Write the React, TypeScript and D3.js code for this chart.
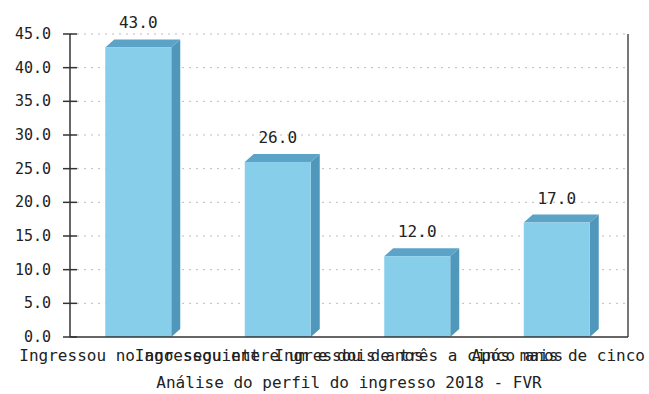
import React from "react";
import * as d3 from "d3";

const categories = [
  "Ingressou no ano seguinte",
  "Ingressou entre um e dois anos",
  "Ingressou de três a cinco anos",
  "Após mais de cinco",
];
const values = [43.0, 26.0, 12.0, 17.0];
const yTicks = [0, 5, 10, 15, 20, 25, 30, 35, 40, 45];
const title = "Análise do perfil do ingresso 2018 - FVR";

const W = 649;
const H = 394;
const left = 70;
const right = 628;
const top = 34;
const bottom = 337;
const depthX = 9;
const depthY = 8;
const barW = 66;
const font = "'DejaVu Sans Mono', monospace";

export default function App() {
  const x = d3.scaleBand<string>().domain(categories).range([left, right]).padding(0);
  const y = d3.scaleLinear().domain([0, 45]).range([bottom, top]);
  const step = x.step();

  return (
    <svg width={W} height={H} style={{ position: "absolute", left: 0, top: 0, background: "#fff" }}>
      <rect x={0} y={0} width={W} height={H} fill="#fff" />
      {/* grid */}
      {yTicks.filter((t) => t > 0).map((t) => (
        <line key={"g" + t} x1={left} x2={right} y1={y(t)} y2={y(t)} stroke="#bdbdbd" strokeWidth={1} strokeDasharray="2,5" />
      ))}
      {/* bars */}
      {categories.map((c, i) => {
        const x0 = (x(c) as number) + step / 2 - 34.5;
        const x1 = x0 + barW;
        const yt = y(values[i]);
        const yb = y(0);
        return (
          <g key={c}>
            <polygon
              points={`${x1},${yt} ${x1 + depthX},${yt - depthY} ${x1 + depthX},${yb - depthY} ${x1},${yb}`}
              fill="#4f97bb"
            />
            <polygon
              points={`${x0},${yt} ${x0 + depthX},${yt - depthY} ${x1 + depthX},${yt - depthY} ${x1},${yt}`}
              fill="#5ba3c7"
            />
            <rect x={x0} y={yt} width={barW} height={yb - yt} fill="#87ceeb" />
            <text
              x={(x0 + x1) / 2}
              y={yt - depthY - 11}
              textAnchor="middle"
              fontFamily={font}
              fontSize={16}
              fill="#222"
            >
              {values[i].toFixed(1)}
            </text>
          </g>
        );
      })}
      {/* right border */}
      <line x1={right} x2={right} y1={top} y2={bottom} stroke="#777" strokeWidth={2} />
      {/* x axis */}
      <line x1={left} x2={right} y1={bottom} y2={bottom} stroke="#333" strokeWidth={1.5} />
      {/* y axis */}
      <line x1={left} x2={left} y1={top} y2={bottom} stroke="#333" strokeWidth={1.5} />
      {yTicks.map((t) => (
        <g key={"t" + t}>
          <line x1={63} x2={77} y1={y(t)} y2={y(t)} stroke="#333" strokeWidth={1.5} />
          <text x={51} y={y(t) + 5} textAnchor="end" fontFamily={font} fontSize={15} fill="#222">
            {t.toFixed(1)}
          </text>
        </g>
      ))}
      {/* category labels */}
      {categories.map((c) => (
        <text
          key={"c" + c}
          x={(x(c) as number) + step / 2}
          y={361}
          textAnchor="middle"
          fontFamily={font}
          fontSize={16}
          fill="#222"
        >
          {c}
        </text>
      ))}
      <text x={(left + right) / 2} y={388} textAnchor="middle" fontFamily={font} fontSize={16} fill="#222">
        {title}
      </text>
    </svg>
  );
}
